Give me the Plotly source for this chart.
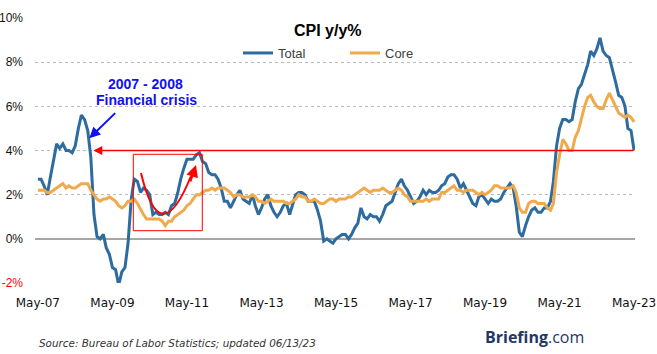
import plotly.graph_objects as go
import pandas as pd

# Monthly, May 2007 .. May 2023
months = pd.date_range("2007-05-01", "2023-05-01", freq="MS")

total = [
    2.7, 2.7, 2.4, 2.0, 2.8, 3.5, 4.3, 4.1,
    4.3, 4.0, 4.0, 3.9, 4.2, 5.0, 5.6, 5.4, 4.9, 3.7, 1.1, 0.1,
    0.0, 0.2, -0.4, -0.7, -1.3, -1.4, -2.1, -1.5, -1.3, -0.2, 1.8, 2.7,
    2.6, 2.1, 2.3, 2.2, 2.0, 1.1, 1.2, 1.1, 1.1, 1.2, 1.1, 1.5,
    1.6, 2.1, 2.7, 3.2, 3.6, 3.6, 3.6, 3.8, 3.9, 3.5, 3.4, 3.0,
    2.9, 2.9, 2.7, 2.3, 1.7, 1.7, 1.4, 1.7, 2.0, 2.2, 1.8, 1.7,
    1.6, 2.0, 1.5, 1.1, 1.4, 1.8, 2.0, 1.5, 1.2, 1.0, 1.2, 1.5,
    1.6, 1.1, 1.5, 2.0, 2.1, 2.1, 2.0, 1.7, 1.7, 1.7, 1.3, 0.8,
    -0.1, 0.0, -0.1, -0.2, 0.0, 0.1, 0.2, 0.2, 0.0, 0.2, 0.5, 0.7,
    1.4, 1.0, 0.9, 1.1, 1.0, 1.0, 0.8, 1.1, 1.5, 1.6, 1.7, 2.1,
    2.5, 2.7, 2.4, 2.2, 1.9, 1.6, 1.7, 1.9, 2.2, 2.0, 2.2, 2.1,
    2.1, 2.2, 2.4, 2.5, 2.8, 2.9, 2.9, 2.7, 2.3, 2.5, 2.2, 1.9,
    1.6, 1.5, 1.9, 2.0, 1.8, 1.6, 1.8, 1.7, 1.7, 1.8, 2.1, 2.3,
    2.5, 2.3, 1.5, 0.3, 0.1, 0.6, 1.0, 1.3, 1.4, 1.2, 1.2, 1.4,
    1.4, 1.7, 2.6, 4.2, 5.0, 5.4, 5.4, 5.3, 5.4, 6.2, 6.8, 7.0,
    7.5, 7.9, 8.5, 8.3, 8.6, 9.1, 8.5, 8.3, 8.2, 7.7, 7.1, 6.5,
    6.4, 6.0, 5.0, 4.9, 4.0,
]

core = [
    2.2, 2.2, 2.2, 2.1, 2.1, 2.2, 2.3, 2.4,
    2.5, 2.3, 2.4, 2.3, 2.3, 2.4, 2.5, 2.5, 2.5, 2.2, 2.0, 1.8,
    1.7, 1.8, 1.8, 1.9, 1.8, 1.7, 1.5, 1.4, 1.5, 1.7, 1.7, 1.8,
    1.6, 1.3, 1.1, 0.9, 0.9, 0.9, 0.9, 0.9, 0.8, 0.6, 0.8, 0.8,
    1.0, 1.1, 1.2, 1.3, 1.5, 1.6, 1.8, 2.0, 2.0, 2.1, 2.2, 2.2,
    2.3, 2.2, 2.3, 2.3, 2.3, 2.2, 2.1, 1.9, 2.0, 2.0, 1.9, 1.9,
    1.9, 2.0, 1.9, 1.7, 1.7, 1.6, 1.7, 1.8, 1.7, 1.7, 1.7, 1.7,
    1.6, 1.6, 1.7, 1.8, 2.0, 1.9, 1.9, 1.7, 1.7, 1.8, 1.7, 1.6,
    1.6, 1.7, 1.8, 1.8, 1.7, 1.8, 1.8, 1.8, 1.9, 1.9, 2.0, 2.1,
    2.2, 2.3, 2.2, 2.1, 2.2, 2.2, 2.2, 2.3, 2.2, 2.1, 2.1, 2.2,
    2.3, 2.2, 2.0, 1.9, 1.7, 1.7, 1.7, 1.7, 1.7, 1.8, 1.7, 1.8,
    1.8, 1.8, 2.1, 2.1, 2.2, 2.3, 2.4, 2.2, 2.2, 2.1, 2.2, 2.2,
    2.2, 2.1, 2.0, 2.1, 2.0, 2.1, 2.2, 2.4, 2.4, 2.3, 2.3, 2.3,
    2.3, 2.4, 2.1, 1.4, 1.2, 1.2, 1.6, 1.7, 1.7, 1.6, 1.6, 1.6,
    1.4, 1.3, 1.6, 3.0, 3.8, 4.5, 4.3, 4.0, 4.0, 4.6, 4.9, 5.5,
    6.0, 6.4, 6.5, 6.2, 6.0, 5.9, 5.9, 6.3, 6.6, 6.3, 6.0, 5.7,
    5.6, 5.5, 5.6, 5.5, 5.3,
]

tick_dates = ["2007-05-01", "2009-05-01", "2011-05-01", "2013-05-01",
              "2015-05-01", "2017-05-01", "2019-05-01", "2021-05-01", "2023-05-01"]
tick_text = ["May-07", "May-09", "May-11", "May-13", "May-15",
             "May-17", "May-19", "May-21", "May-23"]
y_ticks = [-2, 0, 2, 4, 6, 8, 10]
y_text = ['<span style="color:#FF0000">-2%</span>', "0%", "2%", "4%", "6%", "8%", "10%"]
threshold = 4

BLUE = "#2E6B9E"
ORANGE = "#F0AA4C"

fig = go.Figure()
fig.add_trace(go.Scatter(x=months, y=total, mode="lines", name="Total",
                         line=dict(color=BLUE, width=3)))
fig.add_trace(go.Scatter(x=months, y=core, mode="lines", name="Core",
                         line=dict(color=ORANGE, width=3)))

W, H = 657, 354
L, R, T, B = 35, 22, 18, 71
pw, ph = W - L - R, H - T - B


def px(xp):
    return (xp - L) / pw


def py(yp):
    return (H - B - yp) / ph


fig.update_layout(
    width=W, height=H,
    margin=dict(l=L, r=R, t=T, b=B, autoexpand=False),
    paper_bgcolor="white", plot_bgcolor="white",
    font=dict(family="Liberation Sans, Arial", color="#222222", size=12),
    showlegend=True,
    legend=dict(orientation="h", x=px(238), xanchor="left", y=py(53), yanchor="middle",
                font=dict(size=13, color="#404040", family="Liberation Sans, Arial"),
                bgcolor="rgba(0,0,0,0)", itemwidth=30, traceorder="normal",
                entrywidth=62, entrywidthmode="pixels"),
    xaxis=dict(range=["2007-04-03", "2023-05-10"], tickvals=tick_dates, ticktext=tick_text,
               showgrid=False, zeroline=False, showline=False, ticks="", automargin=False,
               tickfont=dict(family="DejaVu Sans", size=12, color="#111111"),
               ticklabelstandoff=11),
    yaxis=dict(range=[-2, 10], tickvals=y_ticks, ticktext=y_text, automargin=False,
               showgrid=True, gridcolor="#BBBBBB", griddash="dot", gridwidth=1,
               zeroline=True, zerolinecolor="#A6A6A6", zerolinewidth=1.5,
               showline=False, ticks="",
               tickfont=dict(family="Liberation Sans, Arial", size=12, color="#111111"),
               ticklabelstandoff=11),
)

# Title
fig.add_annotation(text="<b>CPI y/y%</b>", xref="paper", yref="paper", x=px(328), y=py(31),
                   xanchor="center", yanchor="middle", showarrow=False,
                   font=dict(size=16, color="#000000", family="Liberation Sans, Arial"))

# Financial crisis text + arrow
fig.add_annotation(text="<b>2007 - 2008</b>", xref="paper", yref="paper", x=px(145.5), y=py(84),
                   xanchor="center", yanchor="middle", showarrow=False,
                   font=dict(size=14, color="#1010F0", family="Liberation Sans, Arial"))
fig.add_annotation(text="<b>Financial crisis</b>", xref="paper", yref="paper", x=px(146), y=py(100),
                   xanchor="center", yanchor="middle", showarrow=False,
                   font=dict(size=14, color="#1010F0", family="Liberation Sans, Arial"))
fig.add_annotation(text="", xref="paper", yref="paper", x=px(89.3), y=py(138.3),
                   ax=27.4, ay=-26.6, showarrow=True, arrowhead=2, arrowsize=1.1,
                   arrowwidth=2, arrowcolor="#1010F0", standoff=0)

# Red horizontal 4% arrow
fig.add_annotation(text="", xref="paper", yref="y", x=px(93.3), y=threshold,
                   ax=635 - 93.3, ay=0, showarrow=True, arrowhead=2, arrowsize=1.2,
                   arrowwidth=1.5, arrowcolor="#FF0000", standoff=0)

# Red rectangle
fig.add_shape(type="rect", xref="paper", yref="paper",
              x0=px(133.3), x1=px(202.3), y0=py(230.7), y1=py(154.3),
              line=dict(color="#FF0000", width=1), fillcolor="rgba(0,0,0,0)")

# Red curved arrow
p0 = (px(141), py(173))
c = (px(160), py(253))
p2 = (px(191), py(176))
fig.add_shape(type="path", xref="paper", yref="paper",
              path=f"M {p0[0]},{p0[1]} Q {c[0]},{c[1]} {p2[0]},{p2[1]}",
              line=dict(color="#FF0000", width=2))
fig.add_annotation(text="", xref="paper", yref="paper", x=px(196), y=py(165),
                   ax=-6, ay=18, showarrow=True, arrowhead=2, arrowsize=1.2,
                   arrowwidth=2, arrowcolor="#FF0000", standoff=0)

# Footer
fig.add_annotation(text="<i>Source: Bureau of Labor Statistics; updated 06/13/23</i>",
                   xref="paper", yref="paper", x=px(37), y=py(343), xanchor="left", yanchor="middle",
                   showarrow=False, font=dict(family="DejaVu Sans", size=10.4, color="#333333"))
fig.add_annotation(text="<b>Briefing</b>.com", xref="paper", yref="paper", x=px(534), y=py(337),
                   xanchor="center", yanchor="middle",
                   showarrow=False, font=dict(family="Open Sans", size=16, color="#1F3864"))

fig.write_html("out.html")
